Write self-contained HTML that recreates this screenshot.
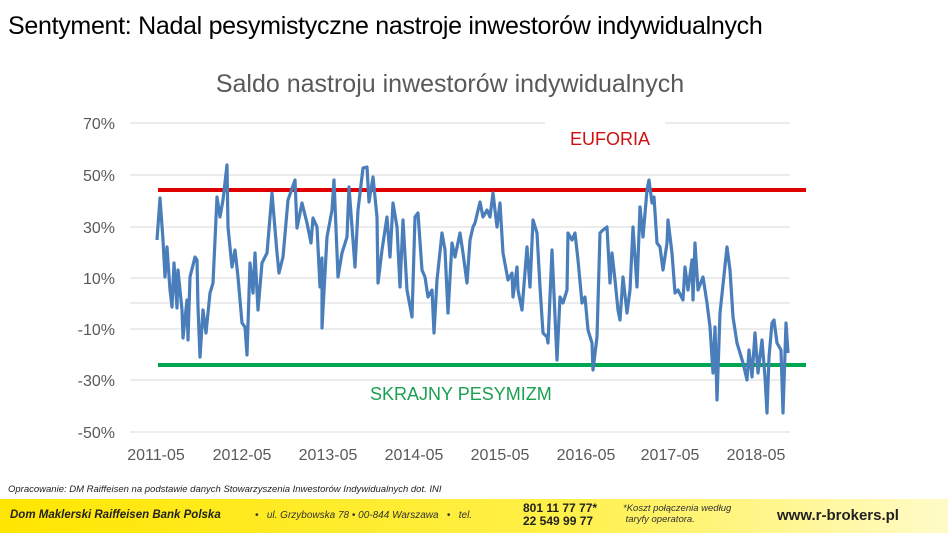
<!DOCTYPE html><html><head><meta charset="utf-8"><style>
body{margin:0;width:948px;height:533px;background:#fff;font-family:"Liberation Sans",sans-serif;position:relative;overflow:hidden}
.a{position:absolute;white-space:nowrap}
</style></head><body>
<div class="a" style="left:8px;top:12px;font-size:25px;color:#000;letter-spacing:-0.3px">Sentyment: Nadal pesymistyczne nastroje inwestorów indywidualnych</div>
<svg class="a" style="left:0;top:0" width="948" height="533">
<g stroke="#d9d9d9" stroke-width="1">
<line x1="130" x2="790" y1="123" y2="123"/><line x1="130" x2="790" y1="175" y2="175"/><line x1="130" x2="790" y1="227" y2="227"/><line x1="130" x2="790" y1="278" y2="278"/><line x1="130" x2="790" y1="303" y2="303"/><line x1="130" x2="790" y1="329" y2="329"/><line x1="130" x2="790" y1="380" y2="380"/><line x1="130" x2="790" y1="432" y2="432"/>
</g>
<rect x="545" y="118" width="120" height="36" fill="#fff"/>
<g font-size="16" fill="#595959" text-anchor="end"><text x="115" y="129">70%</text><text x="115" y="181">50%</text><text x="115" y="233">30%</text><text x="115" y="284">10%</text><text x="115" y="335">-10%</text><text x="115" y="386">-30%</text><text x="115" y="438">-50%</text></g>
<g font-size="16" fill="#595959" text-anchor="middle"><text x="156" y="460">2011-05</text><text x="242" y="460">2012-05</text><text x="328" y="460">2013-05</text><text x="414" y="460">2014-05</text><text x="500" y="460">2015-05</text><text x="586" y="460">2016-05</text><text x="670" y="460">2017-05</text><text x="756" y="460">2018-05</text></g>
<text x="450" y="92" font-size="25" fill="#595959" text-anchor="middle">Saldo nastroju inwestorów indywidualnych</text>
<line x1="158" x2="806" y1="190" y2="190" stroke="#e00000" stroke-width="4"/>
<line x1="158" x2="806" y1="365" y2="365" stroke="#00a650" stroke-width="4"/>
<text x="570" y="145" font-size="18" fill="#d01010">EUFORIA</text>
<text x="370" y="400" font-size="18" fill="#1aa050">SKRAJNY PESYMIZM</text>
<polyline fill="none" stroke="#4a7ebb" stroke-width="3.2" stroke-linejoin="round" points="157,240 160,198 163,240 165,277 167,247 170,290 172,307 174,263 177,308 178,270 182,310 183,338 187,300 188,340 190,277 195,257 197,260 198,307 200,357 203,310 206,333 210,293 213,283 217,197 220,217 223,200 227,165 228,227 232,267 235,250 238,277 242,323 245,327 247,355 250,263 253,293 255,253 258,310 262,263 267,253 272,193 277,253 279,273 283,257 288,200 295,180 297,228 302,203 307,223 311,243 313,218 317,227 320,287 322,258 322,328 327,237 332,210 334,180 338,277 342,253 347,237 349,187 355,267 358,210 363,168 367,167 369,202 373,177 377,217 378,283 382,250 387,217 390,257 393,203 397,227 400,287 403,220 407,290 412,317 415,217 418,213 422,270 425,277 428,297 432,290 434,333 437,280 442,233 445,250 448,313 452,243 455,257 460,233 463,253 467,283 470,240 473,227 475,223 480,202 483,217 487,210 490,217 493,193 497,227 500,203 503,253 508,280 512,273 513,297 517,267 518,290 522,310 527,247 530,287 533,220 537,233 540,287 543,333 547,337 548,343 552,250 557,360 560,297 563,303 567,290 568,233 572,240 575,233 578,260 582,303 585,297 588,330 592,343 593,370 597,337 600,233 603,230 607,227 610,283 612,253 615,280 618,310 620,320 623,277 627,313 630,290 633,227 637,287 640,207 643,237 647,190 649,180 652,203 654,197 657,243 660,247 663,270 667,243 668,220 672,253 675,293 678,290 683,300 685,267 688,290 692,260 693,300 695,243 698,290 703,277 707,303 710,327 713,373 715,327 717,400 720,313 727,247 730,270 733,317 737,343 740,353 743,363 747,380 749,350 752,377 755,333 758,373 762,340 765,377 767,413 769,357 772,323 774,320 777,343 781,350 783,413 786,323 788,353"/>
<defs><linearGradient id="g" x1="0" x2="1"><stop offset="0" stop-color="#ffe600"/><stop offset="0.6" stop-color="#fff04a"/><stop offset="1" stop-color="#fffbc8"/></linearGradient></defs>
<rect x="0" y="499" width="948" height="34" fill="url(#g)"/>
</svg>
<div class="a" style="left:8px;top:484px;font-size:9.5px;font-style:italic;color:#222">Opracowanie: DM Raiffeisen na podstawie danych Stowarzyszenia Inwestorów Indywidualnych dot. INI</div>
<div class="a" style="left:10px;top:509px;font-size:11.5px;font-weight:bold;font-style:italic;color:#222">Dom Maklerski Raiffeisen Bank Polska</div>
<div class="a" style="left:255px;top:510px;font-size:10px;font-style:italic;color:#333">•&nbsp;&nbsp; ul. Grzybowska 78 • 00-844 Warszawa &nbsp;&nbsp;•&nbsp;&nbsp; tel.</div>
<div class="a" style="left:523px;top:502px;font-size:12px;font-weight:bold;line-height:13px;color:#222">801 11 77 77*<br>22 549 99 77</div>
<div class="a" style="left:623px;top:503px;font-size:9.5px;font-style:italic;line-height:11px;color:#333">*Koszt połączenia według<br>&nbsp;taryfy operatora.</div>
<div class="a" style="left:777px;top:507px;font-size:15px;font-weight:bold;color:#222">www.r-brokers.pl</div>
</body></html>
